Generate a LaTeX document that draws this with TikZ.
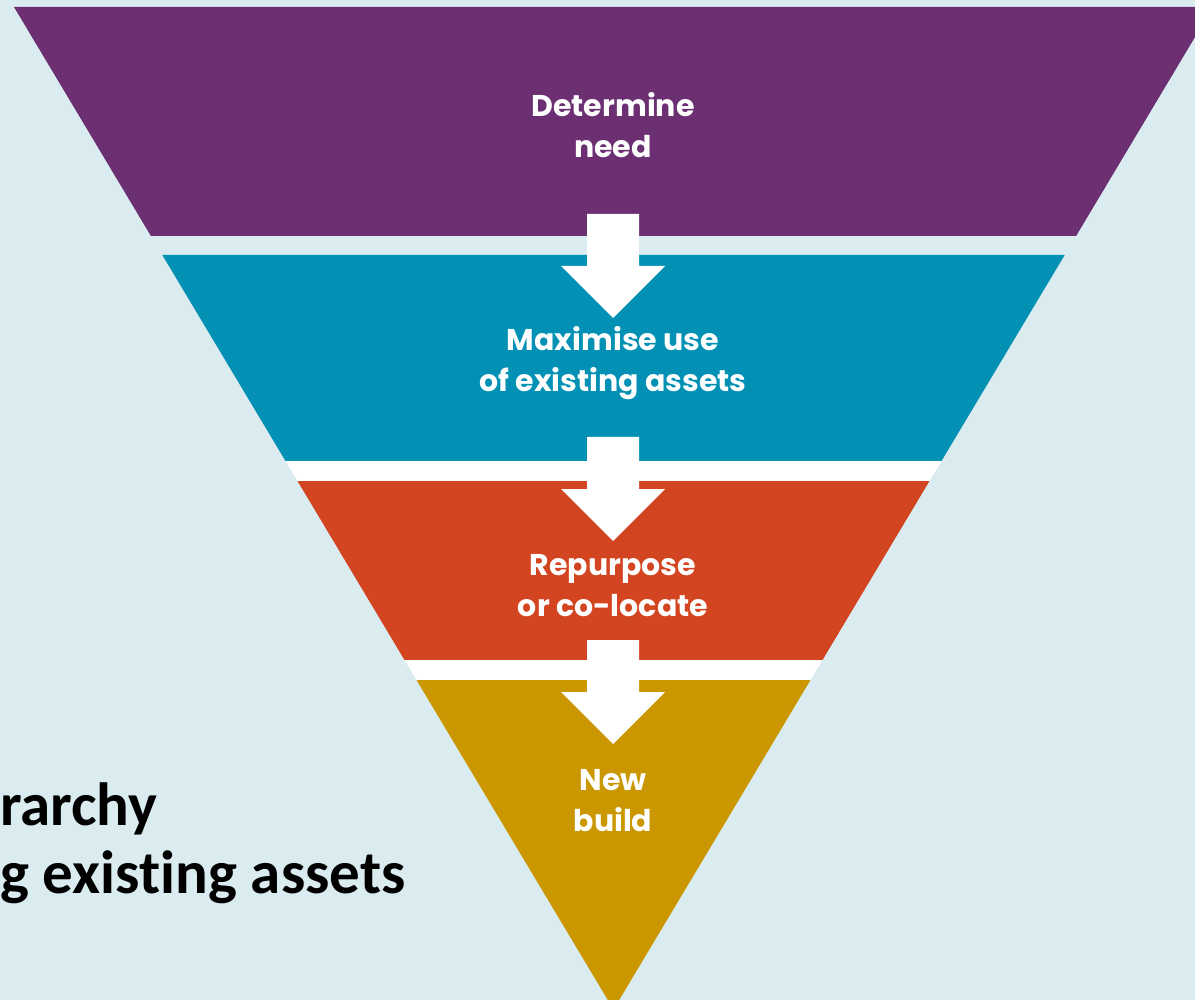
\documentclass[tikz,border=0pt]{standalone}
\usepackage{fontspec}
\newfontfamily\funnelfont{Poppins}[UprightFont=* Bold]
\newfontfamily\titlefont{Carlito}[UprightFont=* Bold,Ligatures=NoCommon]
\definecolor{bgc}{RGB}{218,236,240}
\definecolor{purp}{RGB}{107,47,114}
\definecolor{teal}{RGB}{2,145,180}
\definecolor{oran}{RGB}{211,69,32}
\definecolor{gold}{RGB}{203,151,0}
\begin{document}
\begin{tikzpicture}[x=1pt,y=-1pt,
  bandtext/.style={text=white,align=center,inner sep=0pt,font=\funnelfont\fontsize{30}{41}\selectfont},
  bigarrow/.style={fill=white,draw=none},
  titletext/.style={text=black,anchor=base west,inner sep=0pt,font=\titlefont\fontsize{61}{68}\selectfont}]
\useasboundingbox (0,0) rectangle (1195,1000);
\clip (0,0) rectangle (1195,1000);
\fill[bgc] (0,0) rectangle (1195,1000);
% bands
\fill[purp] (14,7) -- (1213,7) -- (1076.1,236) -- (150.9,236) -- cycle;
\fill[teal] (162.3,255) -- (1064.7,255) -- (941.5,461) -- (285.5,461) -- cycle;
\fill[white] (285.5,461) -- (941.5,461) -- (929.5,481) -- (297.5,481) -- cycle;
\fill[oran] (297.5,481) -- (929.5,481) -- (822.5,660) -- (404.5,660) -- cycle;
\fill[white] (404.5,660) -- (822.5,660) -- (810.5,680) -- (416.5,680) -- cycle;
\fill[gold] (416.5,680) -- (810.5,680) -- (613.5,1009.5) -- cycle;
% arrows
\fill[bigarrow] (587,214) -- (639,214) -- (639,266) -- (665,266) -- (613,318) -- (561,266) -- (587,266) -- cycle;
\fill[bigarrow] (587,437) -- (639,437) -- (639,489) -- (665,489) -- (613,541) -- (561,489) -- (587,489) -- cycle;
\fill[bigarrow] (587,640) -- (639,640) -- (639,692) -- (665,692) -- (613,744) -- (561,692) -- (587,692) -- cycle;
% labels
\node[bandtext] (need) at (613,125) {Determine\\need};
\node[bandtext] (maxuse) at (613,363) {Maximise use\\of existing assets};
\node[bandtext] (repurp) at (613,586) {Repurpose\\or co-locate};
\node[bandtext] (newb) at (613,801) {New\\build};
\node[titletext] (title1) at (0,825) {rarchy};
\node[titletext] (title2) at (0,893) {g existing assets};
\end{tikzpicture}
\end{document}
